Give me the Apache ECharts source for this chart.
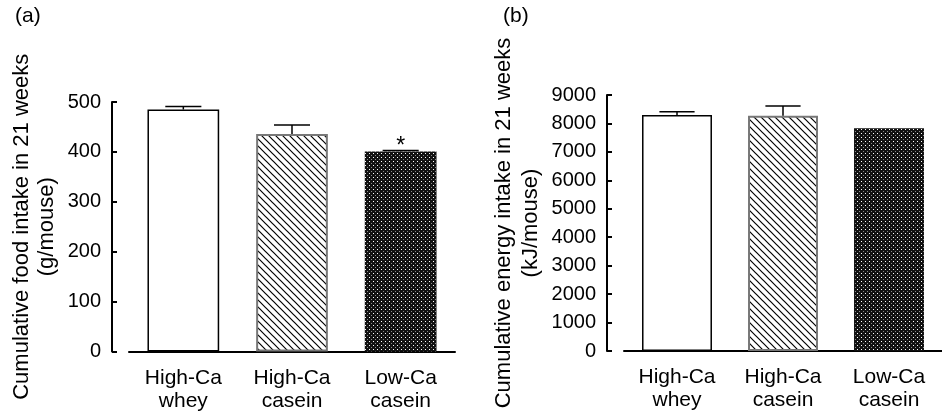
<!DOCTYPE html>
<html>
<head>
<meta charset="utf-8">
<script src="https://cdn.jsdelivr.net/npm/echarts@6/dist/echarts.min.js"></script>
<style>
  html, body { margin: 0; padding: 0; background: #fff; }
  #main { width: 942px; height: 414px; }
</style>
</head>
<body>
<div id="main"></div>
<script>
// groups on the x axis
var categories = ['High-Ca\nwhey', 'High-Ca\ncasein', 'Low-Ca\ncasein'];

// (a) cumulative food intake, g/mouse
var foodMean = [485, 436, 401];
var foodSem = [6, 18, 2];
var foodMarks = ['', '', '*'];

// (b) cumulative energy intake, kJ/mouse
var energyMean = [8300, 8270, 7830];
var energySem = [115, 340, 0];

var fontFam = '"Liberation Sans", Arial, sans-serif';

// hatch pattern  \\\\
function makeHatch() {
    var c = document.createElement('canvas');
    c.width = 7; c.height = 7;
    var ctx = c.getContext('2d');
    ctx.fillStyle = '#fff';
    ctx.fillRect(0, 0, 7, 7);
    ctx.strokeStyle = '#000';
    ctx.lineWidth = 1.2;
    ctx.beginPath();
    ctx.moveTo(-1, -1); ctx.lineTo(8, 8);
    ctx.moveTo(-8, -1); ctx.lineTo(1, 8);
    ctx.moveTo(6, -1); ctx.lineTo(15, 8);
    ctx.stroke();
    return c;
}

// dark dotted pattern
function makeDots() {
    var c = document.createElement('canvas');
    c.width = 4; c.height = 4;
    var ctx = c.getContext('2d');
    ctx.fillStyle = '#111';
    ctx.fillRect(0, 0, 4, 4);
    ctx.fillStyle = '#fff';
    ctx.fillRect(1, 1, 1, 1);
    ctx.fillStyle = '#888';
    ctx.fillRect(3, 3, 1, 1);
    return c;
}

var hatch = makeHatch();
var dots = makeDots();

var barStyles = [
    {color: '#fff', borderColor: '#000', borderWidth: 1.5},
    {color: {image: hatch, repeat: 'repeat'}, borderColor: '#777', borderWidth: 2},
    {color: {image: dots, repeat: 'repeat'}, borderColor: '#111', borderWidth: 0}
];

function barData(vals) {
    return vals.map(function (v, i) {
        return {value: v, itemStyle: barStyles[i]};
    });
}

function errData(vals, sem) {
    return vals.map(function (v, i) {
        return [i, v, sem[i]];
    });
}

function errRender(params, api) {
    var x = api.value(0), y = api.value(1), e = api.value(2);
    if (!e) return;
    var base = api.coord([x, y]);
    var top = api.coord([x, y + e]);
    var half = api.size([1, 0])[0] * 0.166;
    var st = {stroke: '#000', lineWidth: 1.5};
    return {
        type: 'group',
        children: [
            {type: 'line', shape: {x1: base[0], y1: base[1], x2: top[0], y2: top[1]}, style: st},
            {type: 'line', shape: {x1: top[0] - half, y1: top[1], x2: top[0] + half, y2: top[1]}, style: st}
        ]
    };
}

function xAxisOf(idx) {
    return {
        type: 'category',
        gridIndex: idx,
        data: categories,
        axisLine: {lineStyle: {color: '#000', width: 2}},
        axisTick: {show: false},
        axisLabel: {color: '#000', fontSize: 21, lineHeight: 23, margin: 15, fontFamily: fontFam, interval: 0}
    };
}

function yAxisOf(idx, max, interval, name, gap, lh) {
    return {
        type: 'value',
        gridIndex: idx,
        min: 0,
        max: max,
        interval: interval,
        offset: 17,
        name: name,
        nameLocation: 'middle',
        nameGap: gap,
        nameTextStyle: {color: '#000', fontSize: 22, lineHeight: lh, fontFamily: fontFam},
        splitLine: {show: false},
        axisLine: {show: true, lineStyle: {color: '#000', width: 2}},
        axisTick: {show: true, inside: true, length: 5, lineStyle: {color: '#000', width: 2}},
        axisLabel: {
            color: '#000', fontSize: 20, margin: 11, fontFamily: fontFam,
            formatter: function (v) { return String(v); }
        }
    };
}

var chart = echarts.init(document.getElementById('main'));

var option = {
    animation: false,
    backgroundColor: '#fff',
    grid: [
        {left: 129, top: 102, width: 326, height: 249.5},
        {left: 624, top: 95, width: 323, height: 256}
    ],
    graphic: [
        {type: 'text', left: 15, top: 6, style: {text: '(a)', fontSize: 21, fontFamily: fontFam, fill: '#000'}},
        {type: 'text', left: 503, top: 6, style: {text: '(b)', fontSize: 21, fontFamily: fontFam, fill: '#000'}}
    ],
    xAxis: [xAxisOf(0), xAxisOf(1)],
    yAxis: [
        yAxisOf(0, 500, 100, 'Cumulative food intake in 21 weeks\n(g/mouse)', 53, 25),
        yAxisOf(1, 9000, 1000, 'Cumulative energy intake in 21 weeks\n(kJ/mouse)', 63, 27)
    ],
    series: [
        {
            type: 'bar',
            xAxisIndex: 0,
            yAxisIndex: 0,
            barWidth: '66%',
            data: barData(foodMean),
            label: {
                show: true,
                position: 'top',
                distance: 0,
                offset: [0, 7],
                color: '#000',
                fontSize: 23,
                fontFamily: fontFam,
                formatter: function (p) { return foodMarks[p.dataIndex]; }
            }
        },
        {
            type: 'custom',
            xAxisIndex: 0,
            yAxisIndex: 0,
            renderItem: errRender,
            encode: {x: 0, y: 1},
            data: errData(foodMean, foodSem),
            z: 5
        },
        {
            type: 'bar',
            xAxisIndex: 1,
            yAxisIndex: 1,
            barWidth: '66%',
            data: barData(energyMean)
        },
        {
            type: 'custom',
            xAxisIndex: 1,
            yAxisIndex: 1,
            renderItem: errRender,
            encode: {x: 0, y: 1},
            data: errData(energyMean, energySem),
            z: 5
        }
    ]
};

chart.setOption(option);
</script>
</body>
</html>
